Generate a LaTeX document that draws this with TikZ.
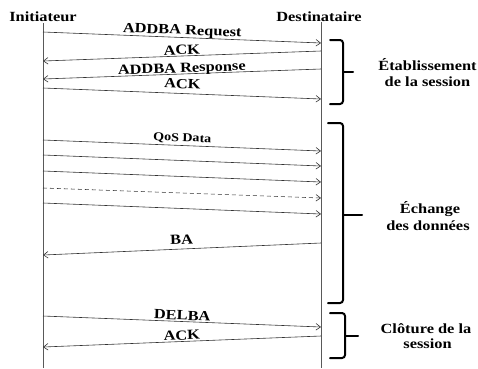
\documentclass[tikz,border=0pt]{standalone}
\usepackage{fontspec}
\setmainfont{Liberation Serif}[FakeStretch=1.17]
\usetikzlibrary{arrows.meta}
\begin{document}
\begin{tikzpicture}[x=1pt,y=-1pt,
  lab/.style={font=\fontsize{14}{16}\selectfont\bfseries, inner sep=0pt, anchor=base},
  life/.style={draw=black!65, line width=0.8pt},
  msg/.style={draw=black!80, line width=0.6pt, -{Straight Barb[length=4.5pt,width=6.5pt]}},
  mlab/.style={lab, midway, sloped},
  bracestroke/.style={line width=2pt, rounded corners=3pt, line cap=round}]
\useasboundingbox (0,0) rectangle (478,368);
% headers
\node[lab] (ini) at (43,21.7) {Initiateur};
\node[lab] (dst) at (319,21) {Destinataire};
% lifelines
\coordinate (itop) at (43,23);
\coordinate (ibot) at (43,368);
\coordinate (dtop) at (321,22);
\coordinate (dbot) at (321,368);
\draw[life] (itop) -- (ibot);
\draw[life] (dtop) -- (dbot);
% message end points
\coordinate (i1) at (43,32);  \coordinate (d1) at (321,43);
\coordinate (d2) at (321,51); \coordinate (i2) at (43,61);
\coordinate (d3) at (321,69); \coordinate (i3) at (43,79);
\coordinate (i4) at (43,88);  \coordinate (d4) at (321,99);
\coordinate (i5) at (43,140); \coordinate (d5) at (321,151);
\coordinate (i6) at (43,155); \coordinate (d6) at (321,166);
\coordinate (i7) at (43,171); \coordinate (d7) at (321,182);
\coordinate (i8) at (43,188); \coordinate (d8) at (321,198);
\coordinate (i9) at (43,203); \coordinate (d9) at (321,214);
\coordinate (d10) at (321,243); \coordinate (i10) at (43,255);
\coordinate (i11) at (43,316); \coordinate (d11) at (321,327);
\coordinate (d12) at (321,336); \coordinate (i12) at (43,347);
% messages
\draw[msg] (i1) -- node[mlab,yshift=3pt] (l1) {ADDBA Request} (d1);
\draw[msg] (d2) -- node[mlab,yshift=1.5pt] (l2) {ACK} (i2);
\draw[msg] (d3) -- node[mlab,yshift=1.5pt] (l3) {ADDBA Response} (i3);
\draw[msg] (i4) -- node[mlab,yshift=5pt] (l4) {ACK} (d4);
\draw[msg] (i5) -- node[mlab,yshift=4pt,font=\fontsize{12}{14}\selectfont\bfseries] (l5) {QoS Data} (d5);
\draw[msg] (i6) -- (d6);
\draw[msg] (i7) -- (d7);
\draw[msg,dashed,dash pattern=on 4pt off 3pt] (i8) -- (d8);
\draw[msg] (i9) -- (d9);
\draw[msg] (d10) -- node[mlab,yshift=5pt] (l10) {BA} (i10);
\draw[msg] (i11) -- node[mlab,yshift=1.5pt] (l11) {DELBA} (d11);
\draw[msg] (d12) -- node[mlab,yshift=1.5pt] (l12) {ACK} (i12);
% braces
\draw[bracestroke] (330,40) -- (343,40) -- (343,104) -- (330,104);
\draw[bracestroke] (343,72) -- (353,72);
\draw[bracestroke] (328,123) -- (343,123) -- (343,303) -- (328,303);
\draw[bracestroke] (343,215) -- (362,215);
\draw[bracestroke] (330,313) -- (345,313) -- (345,358) -- (330,358);
\draw[bracestroke] (345,336) -- (358,336);
% phase labels
\node[lab] (e1) at (427.5,70) {Établissement};
\node[lab] (e2) at (427.5,86.7) {de la session};
\node[lab] (x1) at (430,213) {Échange};
\node[lab] (x2) at (428,230) {des données};
\node[lab] (c1) at (426,333) {Clôture de la};
\node[lab] (c2) at (427.5,348) {session};
\end{tikzpicture}
\end{document}
